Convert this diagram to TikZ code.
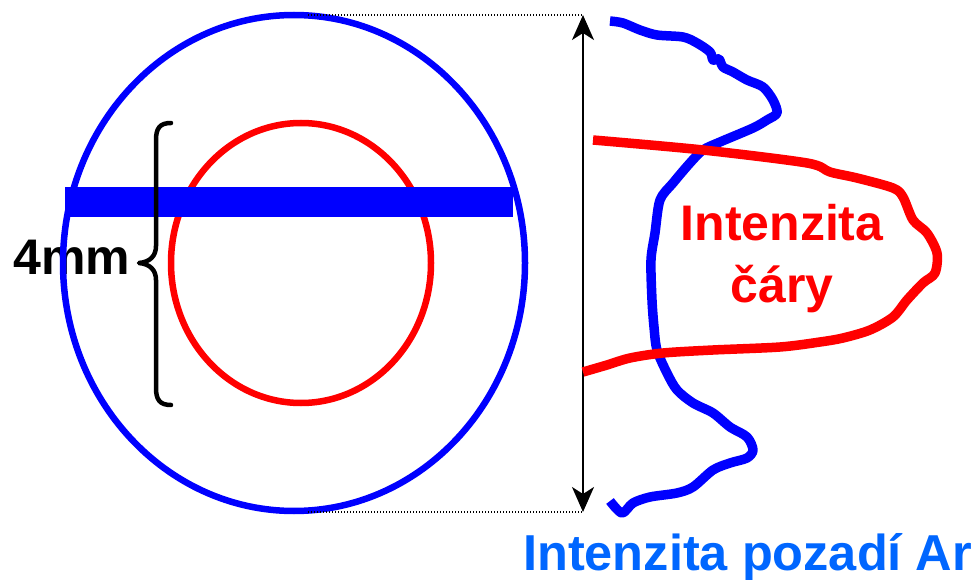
\documentclass[tikz,border=0pt]{standalone}
\usepackage{fontspec}
\setmainfont{Liberation Sans}
\usetikzlibrary{arrows.meta}
\definecolor{pureblue}{RGB}{0,0,255}
\definecolor{purered}{RGB}{255,0,0}
\definecolor{textblue}{RGB}{0,102,255}
\tikzset{
  ring/.style={line width=6.5pt},
  wave/.style={line width=9.5pt, line join=round, line cap=butt},
  bigtext/.style={inner sep=0pt, font=\fontsize{50}{62}\selectfont\bfseries},
  guide/.style={line width=1.2pt, dash pattern=on 1.2pt off 1.8pt},
  dimarrow/.style={line width=2pt, {Stealth[length=25pt,width=22pt,inset=7pt]}-{Stealth[length=25pt,width=22pt,inset=7pt]}}
}
\begin{document}
\begin{tikzpicture}[x=1pt,y=-1pt]
\useasboundingbox (0,0) rectangle (978,580);
\node[bigtext, anchor=base west] (mm) at (13,275) {4mm};
% outer and inner circles
\draw[ring, pureblue] (294,263) ellipse [x radius=231, y radius=248];
\draw[ring, purered] (301,263) ellipse [x radius=130, y radius=140];
% horizontal bar
\fill[pureblue] (65,187) rectangle (513,217);
% brace
\draw[line width=4.5pt, line cap=round, line join=round]
  (171,123) .. controls (160,123) and (156,128) .. (156,140)
  -- (156,246) .. controls (156,256) and (150,262) .. (139,263)
  .. controls (150,264) and (156,270) .. (156,280)
  -- (156,388) .. controls (156,400) and (160,405) .. (171,405);
% guides and arrow
\coordinate (ctop) at (308,15);
\coordinate (cbot) at (308,512);
\coordinate (atop) at (583,15);
\coordinate (abot) at (583,512);
\draw[guide] (ctop) -- (atop);
\draw[guide] (cbot) -- (abot);
\draw[dimarrow] (abot) -- (atop);
% blue background profile
\draw[wave, pureblue] plot[smooth, tension=0.5] coordinates {
 (610,21) (623,23) (640,30) (657,35) (683,37) (697,43) (710,52) (713,60) (719,59) (723,67)
 (733,72) (747,80) (763,87) (773,100) (777,113) (767,120) (753,128) (720,142) (703,150)
 (690,163) (673,183) (660,200) (655,233) (651,260) (652,300) (654,327) (657,350) (667,373)
 (677,390) (693,403) (713,413) (730,427) (747,437) (753,450) (747,458) (730,463) (713,470)
 (693,487) (677,493) (650,497) (633,503) (622,513) (610,501)};
% red line profile
\draw[wave, purered] plot[smooth, tension=0.5] coordinates {
 (593,140) (703,150) (807,163) (830,172) (857,178) (893,188) (903,197) (913,220) (927,233)
 (937,253) (935,273) (923,283) (907,300) (893,317) (870,330) (843,338) (820,342) (780,347)
 (713,350) (663,353) (630,358) (607,365) (583,372)};
% labels
\node[bigtext, text=purered, align=center, anchor=north] (line) at (782,204) {Intenzita\\čáry};
\node[bigtext, text=textblue, anchor=base west, font=\fontsize{50.5}{62}\selectfont\bfseries] (bg) at (523,570) {Intenzita pozadí Ar};
\end{tikzpicture}
\end{document}
